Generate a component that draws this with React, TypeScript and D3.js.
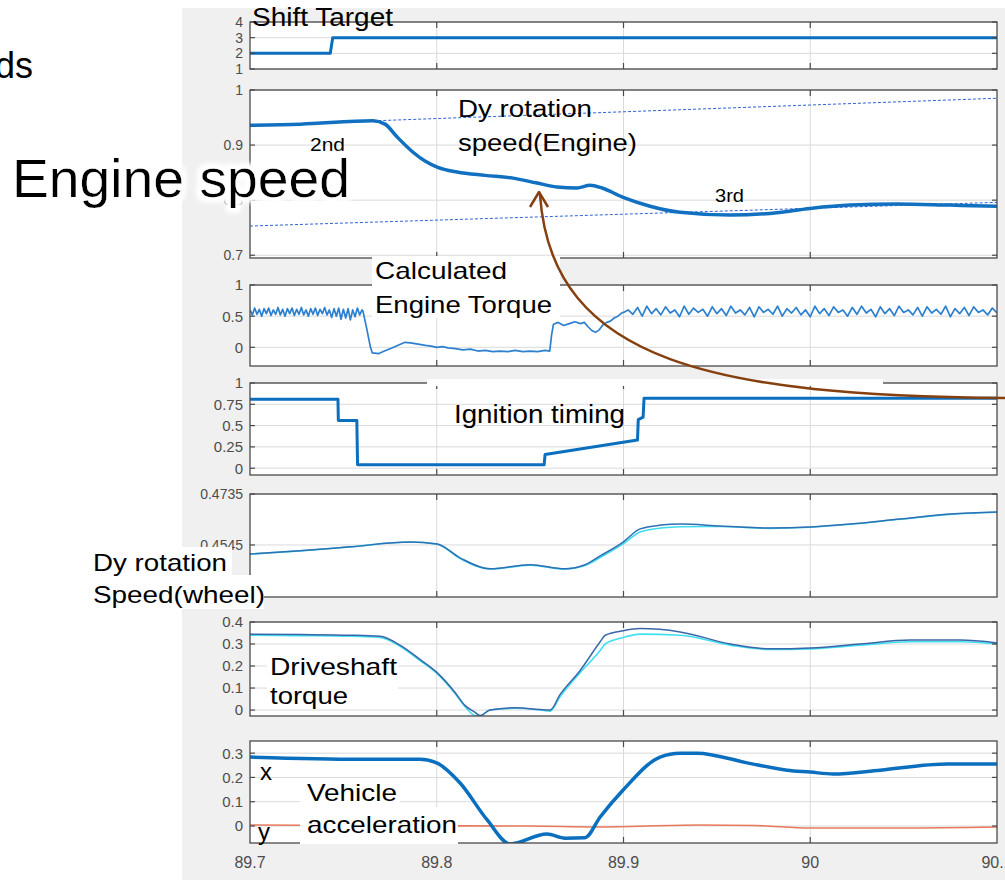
import * as d3 from 'd3';

type P = [number, number];

const xTicks = [89.7, 89.8, 89.9, 90.0, 90.1];
const xTickLabels = ['89.7', '89.8', '89.9', '90', '90.1'];

// Shift Target
const shiftTarget: P[] = [[89.7, 2], [89.743, 2], [89.7443, 3], [90.1, 3]];

// Dy rotation speed (Engine)
const engineSpeed: P[] = [
  [89.7, 0.936], [89.727, 0.938], [89.7659, 0.944], [89.7723, 0.938], [89.7787, 0.915],
  [89.7873, 0.887], [89.7937, 0.871], [89.8002, 0.86], [89.8109, 0.851], [89.8259, 0.845],
  [89.8409, 0.84], [89.8537, 0.831], [89.8644, 0.824], [89.8751, 0.822], [89.8821, 0.827],
  [89.8885, 0.822], [89.8998, 0.805], [89.9142, 0.789], [89.9303, 0.778], [89.9571, 0.773],
  [89.9785, 0.776], [90.0, 0.785], [90.0214, 0.791], [90.0465, 0.793], [90.0749, 0.791], [90.1, 0.789],
];
const gear2nd: P[] = [[89.766, 0.944], [90.1, 0.985]];
const gear3rd: P[] = [[89.7, 0.753], [90.1, 0.796]];

// Calculated engine torque
const torqueBeforeStart = 89.7;
const torqueBeforeStep = 0.00125;
const torqueBefore = [
  0.6, 0.52, 0.63, 0.53, 0.61, 0.5, 0.62, 0.54, 0.63, 0.51, 0.6, 0.53, 0.64, 0.52, 0.61, 0.5,
  0.62, 0.54, 0.63, 0.51, 0.61, 0.53, 0.64, 0.52, 0.6, 0.5, 0.62, 0.53, 0.63, 0.51, 0.61, 0.54,
  0.64, 0.52, 0.6, 0.48, 0.62, 0.5, 0.63, 0.45, 0.61, 0.47, 0.62, 0.44, 0.6, 0.49, 0.63, 0.52, 0.6,
];
const torqueShift: P[] = [
  [89.7605, 0.58], [89.7625, 0.3], [89.7645, 0.0], [89.7655, -0.09], [89.769, -0.1], [89.772, -0.06],
  [89.776, -0.01], [89.779, 0.03], [89.783, 0.08], [89.786, 0.07], [89.79, 0.05], [89.794, 0.03],
  [89.797, 0.02], [89.8, 0.0], [89.803, 0.01], [89.806, -0.01], [89.81, -0.02], [89.814, -0.04],
  [89.818, -0.03], [89.822, -0.06], [89.826, -0.05], [89.83, -0.07], [89.834, -0.06], [89.838, -0.07],
  [89.842, -0.05], [89.846, -0.07], [89.85, -0.06], [89.854, -0.07], [89.858, -0.05], [89.8605, -0.06],
  [89.8615, 0.2], [89.8625, 0.37], [89.865, 0.4], [89.868, 0.35], [89.871, 0.38], [89.874, 0.41],
  [89.877, 0.38], [89.879, 0.4], [89.881, 0.33], [89.883, 0.27], [89.885, 0.24], [89.887, 0.28],
  [89.889, 0.36], [89.891, 0.4], [89.893, 0.42], [89.895, 0.47], [89.897, 0.5], [89.899, 0.55],
];
const torqueAfterStart = 89.9;
const torqueAfterStep = 0.0025;
const torqueAfter = [
  0.56, 0.6, 0.53, 0.64, 0.5, 0.66, 0.54, 0.62, 0.52, 0.65, 0.55, 0.6, 0.49, 0.66, 0.53, 0.63, 0.56, 0.61, 0.5, 0.65,
  0.54, 0.62, 0.51, 0.66, 0.55, 0.6, 0.52, 0.64, 0.49, 0.65, 0.56, 0.61, 0.53, 0.66, 0.5, 0.62, 0.55, 0.64, 0.52, 0.6,
  0.49, 0.66, 0.54, 0.62, 0.51, 0.65, 0.56, 0.6, 0.5, 0.64, 0.53, 0.66, 0.55, 0.61, 0.49, 0.65, 0.54, 0.62, 0.51, 0.66,
  0.56, 0.6, 0.52, 0.64, 0.5, 0.65, 0.55, 0.61, 0.53, 0.66, 0.49, 0.62, 0.54, 0.64, 0.51, 0.65, 0.56, 0.6, 0.52, 0.63, 0.55,
];

// Ignition timing
const ignition: P[] = [
  [89.7, 0.81], [89.7471, 0.81], [89.7473, 0.56], [89.7572, 0.56], [89.7576, 0.04], [89.8575, 0.04],
  [89.858, 0.16], [89.9075, 0.33], [89.9079, 0.57], [89.9105, 0.6], [89.911, 0.82], [90.1, 0.82],
];

// Dy rotation speed (wheel)
const wheelSpeedA: P[] = [
  [89.7, 0.4511], [89.7268, 0.4523], [89.7536, 0.4538], [89.7857, 0.4556], [89.8002, 0.4549],
  [89.8125, 0.4497], [89.8285, 0.4456], [89.85, 0.4471], [89.8687, 0.4456], [89.8794, 0.4471],
  [89.8875, 0.4504], [89.8998, 0.4556], [89.9089, 0.4605], [89.92, 0.4619], [89.9303, 0.4623],
  [89.9517, 0.4616], [89.9785, 0.4608], [90.0, 0.4612], [90.0214, 0.4623], [90.0482, 0.4642],
  [90.0749, 0.466], [90.1, 0.4668],
];
const wheelSpeedB: P[] = [
  [89.7, 0.4511], [89.7268, 0.4523], [89.7536, 0.4538], [89.7857, 0.4556], [89.8002, 0.4548],
  [89.8125, 0.4494], [89.8285, 0.4455], [89.85, 0.447], [89.8687, 0.4455], [89.8794, 0.4468],
  [89.8875, 0.4498], [89.8998, 0.4549], [89.9089, 0.4593], [89.92, 0.4608], [89.9303, 0.4613],
  [89.9517, 0.4614], [89.9785, 0.4607], [90.0, 0.4611], [90.0214, 0.4622], [90.0482, 0.4641],
  [90.0749, 0.4659], [90.1, 0.4667],
];

// Driveshaft torque
const shaftTorqueA: P[] = [
  [89.7, 0.345], [89.7268, 0.343], [89.7536, 0.34], [89.7696, 0.335], [89.7803, 0.295], [89.791, 0.23],
  [89.8002, 0.17], [89.8098, 0.08], [89.8152, 0.02], [89.8205, -0.01], [89.8232, -0.025], [89.8285, 0.0],
  [89.8419, 0.01], [89.8553, 0.002], [89.8607, 0.0], [89.866, 0.07], [89.8768, 0.18], [89.8875, 0.31],
  [89.8902, 0.34], [89.8998, 0.36], [89.9089, 0.37], [89.9303, 0.355], [89.9571, 0.3], [89.9785, 0.278],
  [90.0, 0.282], [90.0267, 0.3], [90.0535, 0.318], [90.0803, 0.318], [90.1, 0.305],
];
const shaftTorqueB: P[] = [
  [89.7, 0.34], [89.7268, 0.338], [89.7536, 0.336], [89.7696, 0.33], [89.7803, 0.29], [89.791, 0.225],
  [89.8002, 0.165], [89.8098, 0.075], [89.8152, 0.015], [89.8205, -0.025], [89.8232, -0.027], [89.8285, 0.0],
  [89.8419, 0.008], [89.8553, 0.0], [89.8607, -0.005], [89.866, 0.06], [89.8768, 0.17], [89.8875, 0.27],
  [89.8902, 0.3], [89.8998, 0.33], [89.9089, 0.345], [89.9303, 0.34], [89.9571, 0.295], [89.9785, 0.275],
  [90.0, 0.278], [90.0267, 0.295], [90.0535, 0.31], [90.0803, 0.31], [90.1, 0.3],
];

// Vehicle acceleration
const accelX: P[] = [
  [89.7, 0.284], [89.7589, 0.275], [89.791, 0.275], [89.8002, 0.259], [89.8125, 0.177], [89.827, 0.025],
  [89.8393, -0.074], [89.859, -0.033], [89.8687, -0.05], [89.8794, -0.048], [89.8875, 0.037],
  [89.8998, 0.148], [89.9196, 0.284], [89.9303, 0.3], [89.9394, 0.3], [89.9662, 0.26], [89.9876, 0.23],
  [90.0, 0.222], [90.0123, 0.214], [90.0375, 0.23], [90.0733, 0.255], [90.1, 0.255],
];
const accelY: P[] = [
  [89.7, 0.004], [89.78, 0.001], [89.85, 0.0], [89.8854, -0.004], [89.94, 0.004], [89.97, 0.002],
  [90.0, -0.008], [90.05, -0.008], [90.1, -0.004],
];

const panels = [
  { top: 22, bottom: 69, domain: [1, 4], ticks: [1, 2, 3, 4], labels: ['1', '2', '3', '4'], fs: 14 },
  { top: 90, bottom: 258, domain: [0.695, 1], ticks: [0.7, 0.8, 0.9, 1], labels: ['0.7', '0.8', '0.9', '1'], fs: 14 },
  { top: 285, bottom: 366, domain: [-0.3, 1], ticks: [0, 0.5, 1], labels: ['0', '0.5', '1'], fs: 15 },
  { top: 383, bottom: 475, domain: [-0.08, 1], ticks: [0, 0.25, 0.5, 0.75, 1], labels: ['0', '0.25', '0.5', '0.75', '1'], fs: 15 },
  { top: 494, bottom: 597, domain: [0.4351, 0.4735], ticks: [0.4545, 0.4735], labels: ['0.4545', '0.4735'], fs: 14 },
  { top: 622, bottom: 716, domain: [-0.027, 0.4], ticks: [0, 0.1, 0.2, 0.3, 0.4], labels: ['0', '0.1', '0.2', '0.3', '0.4'], fs: 15 },
  { top: 741, bottom: 843, domain: [-0.07, 0.35], ticks: [0, 0.1, 0.2, 0.3], labels: ['0', '0.1', '0.2', '0.3'], fs: 15 },
];

const FONT = "'Liberation Sans', Arial, Helvetica, sans-serif";
const AXIS = '#4a4a4a';
const GRID = '#dadada';
const TICKTEXT = '#4d4d4d';

export default function App() {
  const x = d3.scaleLinear().domain([89.7, 90.1]).range([250, 997]);
  const ys = panels.map(p => d3.scaleLinear().domain(p.domain).range([p.bottom, p.top]));

  const torque: P[] = [
    ...torqueBefore.map((v, i) => [torqueBeforeStart + i * torqueBeforeStep, v] as P),
    ...torqueShift,
    ...torqueAfter.map((v, i) => [torqueAfterStart + i * torqueAfterStep, v] as P),
  ];

  const path = (data: P[], pi: number, curve: d3.CurveFactory = d3.curveLinear) =>
    d3.line<P>().x(d => x(d[0])).y(d => ys[pi](d[1])).curve(curve)(data) || '';

  const series = [
    { d: path(shiftTarget, 0), c: '#0b6fbf', w: 3, p: 0 },
    { d: path(gear2nd, 1), c: '#2f62d6', w: 1, dash: '3,2', p: 1 },
    { d: path(gear3rd, 1), c: '#2f62d6', w: 1, dash: '3,2', p: 1 },
    { d: path(engineSpeed, 1, d3.curveMonotoneX), c: '#1170c0', w: 3.5, p: 1 },
    { d: path(torque, 2), c: '#2c80cf', w: 1.7, p: 2 },
    { d: path(ignition, 3), c: '#0b6fbf', w: 3, p: 3 },
    { d: path(wheelSpeedB, 4, d3.curveMonotoneX), c: '#3fdcec', w: 1.6, p: 4 },
    { d: path(wheelSpeedA, 4, d3.curveMonotoneX), c: '#2f6fb3', w: 1.5, p: 4 },
    { d: path(shaftTorqueB, 5, d3.curveMonotoneX), c: '#3fe0f0', w: 1.6, p: 5 },
    { d: path(shaftTorqueA, 5, d3.curveMonotoneX), c: '#3b66aa', w: 1.5, p: 5 },
    { d: path(accelY, 6, d3.curveMonotoneX), c: '#e8785c', w: 1.6, p: 6 },
    { d: path(accelX, 6, d3.curveMonotoneX), c: '#0b6fbf', w: 3.5, p: 6 },
  ];

  const x0 = x.range()[0];
  const x1 = x.range()[1];
  const innerX = xTicks.slice(1, -1);

  return (
    <svg width={1005} height={883} style={{ position: 'absolute', left: 0, top: 0, background: '#fff' }} fontFamily={FONT}>
      <defs>
        {panels.map((p, i) => (
          <clipPath id={`clip${i}`} key={i}>
            <rect x={x0} y={p.top} width={x1 - x0} height={p.bottom - p.top} />
          </clipPath>
        ))}
        <filter id="glow" x="-10%" y="-40%" width="120%" height="180%">
          <feMorphology operator="dilate" radius="4" in="SourceAlpha" result="d" />
          <feGaussianBlur in="d" stdDeviation="2.5" result="b" />
          <feFlood floodColor="#ffffff" />
          <feComposite in2="b" operator="in" result="g" />
          <feMerge>
            <feMergeNode in="g" />
            <feMergeNode in="g" />
            <feMergeNode in="SourceGraphic" />
          </feMerge>
        </filter>
      </defs>

      <rect x={182} y={8} width={823} height={872} fill="#f0f0f0" />

      {panels.map((p, i) => (
        <g key={i}>
          <rect x={x0} y={p.top} width={x1 - x0} height={p.bottom - p.top} fill="#fff" />
          {p.ticks.map(t => (
            <line key={t} x1={x0} x2={x1} y1={ys[i](t)} y2={ys[i](t)} stroke={GRID} />
          ))}
          {innerX.map(t => (
            <line key={t} x1={x(t)} x2={x(t)} y1={p.top} y2={p.bottom} stroke={GRID} />
          ))}
        </g>
      ))}

      {series.map((s, i) => (
        <path key={i} d={s.d} fill="none" stroke={s.c} strokeWidth={s.w} strokeDasharray={s.dash}
          strokeLinejoin="round" clipPath={`url(#clip${s.p})`} />
      ))}

      {panels.map((p, i) => (
        <g key={i}>
          <rect x={x0} y={p.top} width={x1 - x0} height={p.bottom - p.top} fill="none" stroke={AXIS} strokeWidth={1.3} />
          {p.ticks.map(t => (
            <g key={t}>
              <line x1={x0} x2={x0 + 5} y1={ys[i](t)} y2={ys[i](t)} stroke={AXIS} strokeWidth={1.2} />
              <line x1={x1 - 5} x2={x1} y1={ys[i](t)} y2={ys[i](t)} stroke={AXIS} strokeWidth={1.2} />
            </g>
          ))}
          {innerX.map(t => (
            <g key={t}>
              <line x1={x(t)} x2={x(t)} y1={p.top} y2={p.top + 6} stroke={AXIS} strokeWidth={1.2} />
              <line x1={x(t)} x2={x(t)} y1={p.bottom - 6} y2={p.bottom} stroke={AXIS} strokeWidth={1.2} />
            </g>
          ))}
          {p.ticks.map((t, j) => (
            <text key={t} x={243} y={ys[i](t)} dy="0.36em" textAnchor="end" fontSize={p.fs} fill={TICKTEXT}>
              {p.labels[j]}
            </text>
          ))}
        </g>
      ))}

      {xTicks.map((t, i) => (
        <text key={t} x={x(t)} y={868} textAnchor="middle" fontSize={16} fill={TICKTEXT}>{xTickLabels[i]}</text>
      ))}

      {/* annotation boxes */}
      <rect x={372} y={256} width={188} height={62} fill="#fff" />
      <rect x={427} y={379} width={456} height={7} fill="#fff" />
      <rect x={88} y={547} width={144} height={28} fill="#fff" />
      <rect x={88} y={575} width={176} height={34} fill="#fff" />
      <rect x={267} y={648} width={131} height={56} fill="#fff" />
      <rect x={300} y={781} width={100} height={26} fill="#fff" />
      <rect x={300} y={807} width={158} height={37} fill="#fff" />

      <g fill="#000">
        <text x={252} y={26} fontSize={25} textLength={141} lengthAdjust="spacingAndGlyphs">Shift Target</text>
        <text x={33} y={78} fontSize={36} textAnchor="end">ds</text>
        <text x={458} y={117} fontSize={23} textLength={134} lengthAdjust="spacingAndGlyphs">Dy rotation</text>
        <text x={458} y={151} fontSize={23} textLength={179} lengthAdjust="spacingAndGlyphs">speed(Engine)</text>
        <text x={310} y={151} fontSize={19} textLength={35} lengthAdjust="spacingAndGlyphs">2nd</text>
        <text x={715} y={202} fontSize={19} textLength={29} lengthAdjust="spacingAndGlyphs">3rd</text>
        <text x={12} y={197} fontSize={54} textLength={338} lengthAdjust="spacingAndGlyphs" filter="url(#glow)">Engine speed</text>
        <text x={375} y={279} fontSize={24} textLength={132} lengthAdjust="spacingAndGlyphs">Calculated</text>
        <text x={375} y={313} fontSize={24} textLength={177} lengthAdjust="spacingAndGlyphs">Engine Torque</text>
        <text x={454} y={423} fontSize={25} textLength={171} lengthAdjust="spacingAndGlyphs">Ignition timing</text>
        <text x={93} y={571} fontSize={24} textLength={134} lengthAdjust="spacingAndGlyphs">Dy rotation</text>
        <text x={93} y={603} fontSize={24} textLength={172} lengthAdjust="spacingAndGlyphs">Speed(wheel)</text>
        <text x={270} y={675} fontSize={24} textLength={127} lengthAdjust="spacingAndGlyphs">Driveshaft</text>
        <text x={270} y={704} fontSize={24} textLength={78} lengthAdjust="spacingAndGlyphs">torque</text>
        <text x={260} y={780} fontSize={24}>x</text>
        <text x={258} y={840} fontSize={24}>y</text>
        <text x={307} y={801} fontSize={24} textLength={90} lengthAdjust="spacingAndGlyphs">Vehicle</text>
        <text x={307} y={833} fontSize={24} textLength={150} lengthAdjust="spacingAndGlyphs">acceleration</text>
      </g>

      {/* arrow */}
      <path d="M1005,398 C720,395 552,365 540,195" fill="none" stroke="#86400f" strokeWidth={2.5} />
      <polyline points="530,207 539,192 548,207" fill="none" stroke="#86400f" strokeWidth={2.5} strokeLinejoin="round" />
    </svg>
  );
}
